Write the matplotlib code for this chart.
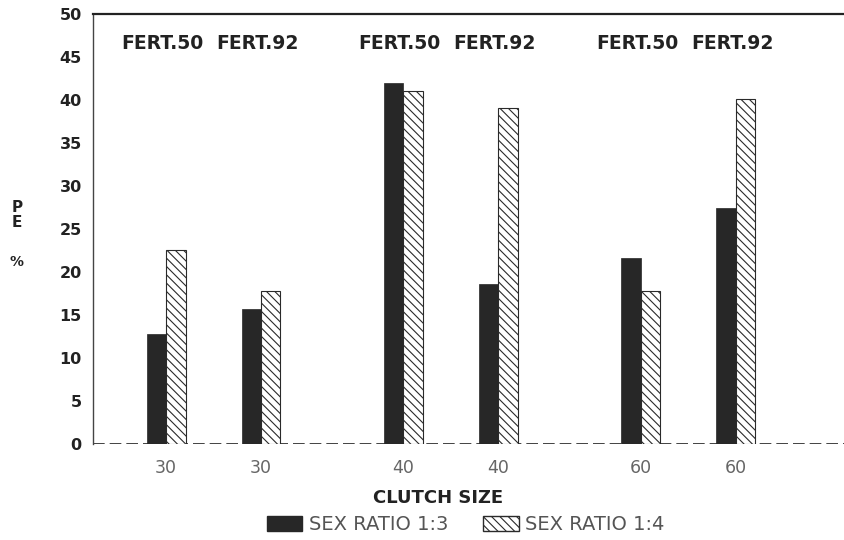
import matplotlib.pyplot as plt
from matplotlib.patches import Patch

# clutch size groups, each split by fertiliser dose
clutch_labels = ['30', '30', '40', '40', '60', '60']
fert_labels = ['FERT.50', 'FERT.92', 'FERT.50', 'FERT.92', 'FERT.50', 'FERT.92']
group_pos = [0, 2, 5, 7, 10, 12]

# PE % per sex ratio
ratio_13 = [12.8, 15.7, 42.0, 18.6, 21.6, 27.4]
ratio_14 = [22.5, 17.8, 41.0, 39.1, 17.8, 40.1]

yticks = [0, 5, 10, 15, 20, 25, 30, 35, 40, 45, 50]

plt.rcParams['hatch.linewidth'] = 0.8

fig = plt.figure(figsize=(8.45, 5.4), dpi=100)
ax = fig.add_axes([0.110, 0.178, 0.890, 0.796])

w = 0.41
dark = '#272727'
ax.bar([p - w / 2 for p in group_pos], ratio_13, width=w,
       color=dark, edgecolor=dark, linewidth=0.5, zorder=3)
ax.bar([p + w / 2 for p in group_pos], ratio_14, width=w,
       color='white', edgecolor='#2a2a2a', linewidth=0.8,
       hatch='\\\\\\\\', zorder=3)

# broken baseline
ax.axhline(0, color='#222222', lw=1.2, linestyle=(0, (7, 3)), zorder=1)

for p, lab in zip(group_pos, fert_labels):
    ax.text(p - 0.08, 46.6, lab, ha='center', va='center',
            fontsize=13.5, fontweight='bold', color='#222222')

ax.set_xlim(-1.54, 14.3)
ax.set_ylim(0, 50)
ax.set_yticks(yticks)
ax.set_yticklabels([str(v) for v in yticks], fontsize=11.5,
                   fontweight='bold', color='#222222')
ax.set_xticks(group_pos)
ax.set_xticklabels(clutch_labels, fontsize=12.5, color='#666666')
ax.tick_params(axis='y', length=0, pad=8)
ax.tick_params(axis='x', length=0, pad=11)

for side in ['right', 'bottom']:
    ax.spines[side].set_visible(False)
ax.spines['left'].set_color('#444444')
ax.spines['left'].set_linewidth(1.0)
ax.spines['top'].set_color('#222222')
ax.spines['top'].set_linewidth(1.6)

fig.text(17 / 845, 1 - 215 / 540, 'P\nE', ha='center', va='center',
         fontsize=11, fontweight='bold', color='#222222', linespacing=0.95)
fig.text(17 / 845, 1 - 262 / 540, '%', ha='center', va='center',
         fontsize=10, fontweight='bold', color='#222222')
fig.text(438 / 845, 1 - 498 / 540, 'CLUTCH SIZE', ha='center', va='center',
         fontsize=13, fontweight='bold', color='#222222')

handles = [Patch(facecolor=dark, edgecolor=dark),
           Patch(facecolor='white', edgecolor='#2a2a2a', hatch='\\\\\\\\')]
fig.legend(handles, ['SEX RATIO 1:3', 'SEX RATIO 1:4'], ncol=2,
           loc='center', bbox_to_anchor=(466 / 845, 1 - 525 / 540),
           frameon=False, fontsize=14, labelcolor='#555555',
           handlelength=1.8, handleheight=0.8, handletextpad=0.35,
           columnspacing=1.8)

fig.savefig('out.png', dpi=100)
